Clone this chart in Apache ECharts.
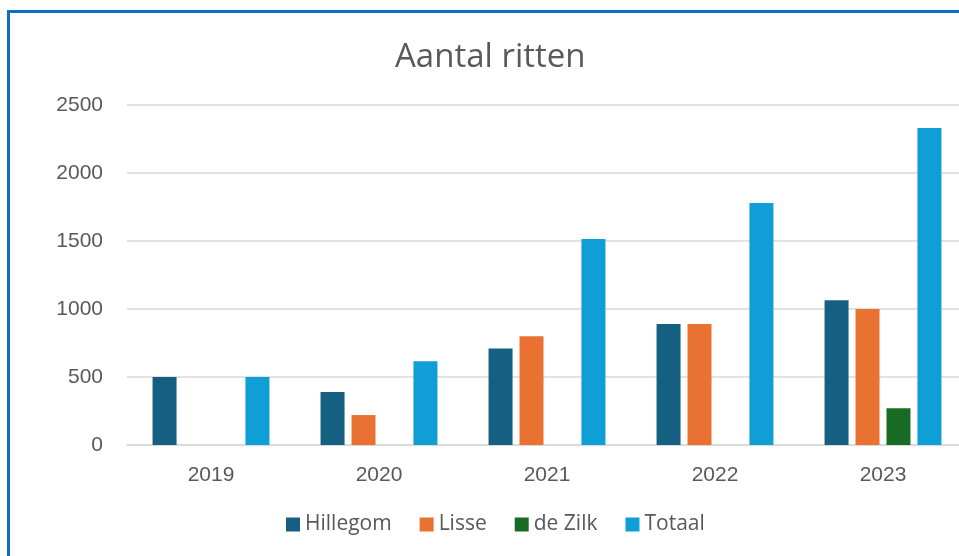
<!DOCTYPE html>
<html>
<head>
<meta charset="utf-8">
<script src="https://cdn.jsdelivr.net/npm/echarts@6/dist/echarts.min.js"></script>
<style>
html,body{margin:0;padding:0;background:#fff;}
#chart{width:959px;height:556px;}
</style>
</head>
<body>
<div id="chart"></div>
<script>
var categories = ['2019', '2020', '2021', '2022', '2023'];
var seriesNames = ['Hillegom', 'Lisse', 'de Zilk', 'Totaal'];
var hillegom = [500, 390, 710, 890, 1065];
var lisse = [null, 220, 800, 890, 1000];
var deZilk = [null, null, null, null, 270];
var totaal = [500, 615, 1515, 1780, 2330];
var yTicks = [0, 500, 1000, 1500, 2000, 2500];
var colors = ['#156082', '#E97132', '#196B24', '#0F9ED5'];

var chart = echarts.init(document.getElementById('chart'));
var dataSets = [hillegom, lisse, deZilk, totaal];
var series = seriesNames.map(function (n, i) {
  return {
    name: n,
    type: 'bar',
    data: dataSets[i],
    barWidth: 24,
    barGap: '29%',
    itemStyle: { color: colors[i] }
  };
});
chart.setOption({
  animation: false,
  color: colors,
  graphic: [{
    type: 'rect',
    shape: { x: 8.5, y: 11.5, width: 1000, height: 600 },
    style: { fill: 'none', stroke: '#0B6FC4', lineWidth: 3 },
    z: 100
  }],
  title: {
    text: 'Aantal ritten',
    left: 390,
    top: 36,
    textStyle: { fontFamily: 'Open Sans', fontSize: 33, fontWeight: 'normal', color: '#595959' }
  },
  legend: {
    data: seriesNames,
    bottom: 16,
    left: 281,
    itemWidth: 14,
    itemHeight: 14,
    itemGap: 28,
    icon: 'rect',
    textStyle: { fontFamily: 'Open Sans', fontSize: 21, color: '#595959' }
  },
  grid: { left: 127, width: 840, top: 105, bottom: 111, containLabel: false, outerBoundsMode: 'none' },
  xAxis: {
    type: 'category',
    data: categories,
    axisLine: { lineStyle: { color: '#d9d9d9', width: 1.5 } },
    axisTick: { show: false },
    axisLabel: { fontFamily: 'Liberation Sans', fontSize: 21, color: '#595959', margin: 20 }
  },
  yAxis: {
    type: 'value',
    min: yTicks[0],
    max: yTicks[yTicks.length - 1],
    interval: 500,
    axisLine: { show: false },
    axisTick: { show: false },
    splitLine: { lineStyle: { color: '#d9d9d9', width: 1.5 } },
    axisLabel: {
      fontFamily: 'Liberation Sans', fontSize: 21, color: '#595959', margin: 24,
      formatter: function (v) { return String(v); }
    }
  },
  series: series
});
</script>
</body>
</html>
